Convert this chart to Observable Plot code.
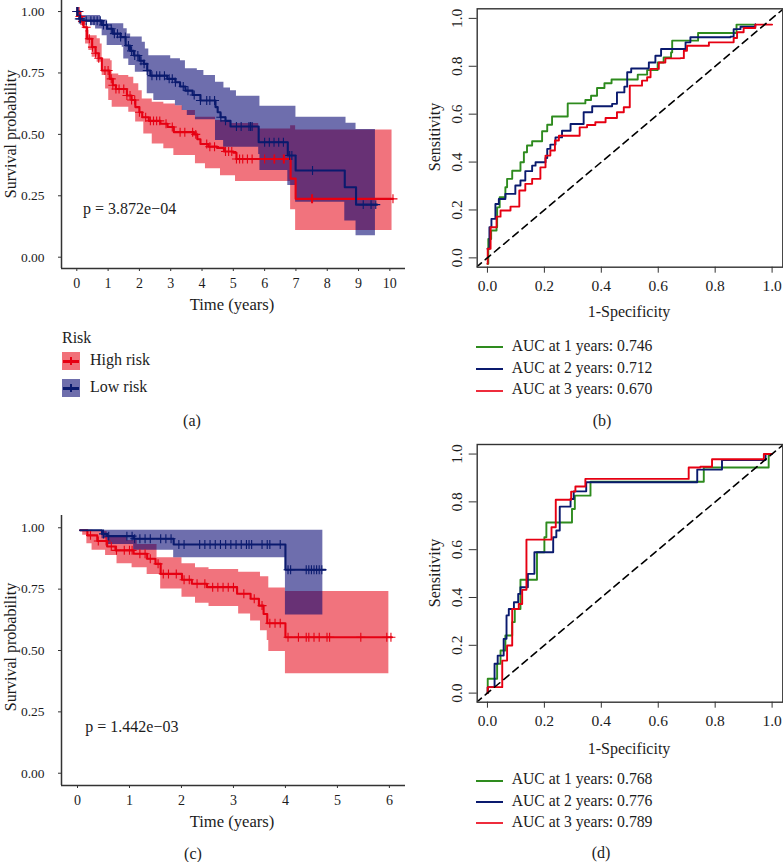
<!DOCTYPE html>
<html>
<head>
<meta charset="utf-8">
<script src="https://cdn.jsdelivr.net/npm/d3@7"></script>
<script src="https://cdn.jsdelivr.net/npm/@observablehq/plot@0.6"></script>
<style>
html,body{margin:0;padding:0;background:#fff;}
#page{position:relative;width:783px;height:862px;overflow:hidden;font-family:"Liberation Serif",serif;color:#1c1c1c;}
#page svg{position:absolute;background:transparent;overflow:visible;font-family:"Liberation Serif",serif;}
.t{position:absolute;white-space:nowrap;line-height:1;}
.sw{position:absolute;width:18px;height:18px;}
.sw i{position:absolute;left:1px;right:1px;top:8px;height:3px;}
.sw b{position:absolute;left:8px;top:5px;width:2px;height:8px;}
.ln{position:absolute;width:27px;height:2px;}
</style>
</head>
<body>
<div id="page"></div>
<script>
// ---------- Panel (a): survival, training cohort. [time, probability] steps ----------
const aHigh = [[0,1],[.1,.98],[.15,.96],[.22,.936],[.33,.889],[.49,.855],[.6,.83],[.7,.81],[.8,.76],[1.05,.726],[1.15,.7],[1.25,.685],[1.6,.658],[1.75,.64],[1.87,.611],[2,.59],[2.09,.57],[2.3,.555],[2.67,.543],[2.9,.53],[3.1,.509],[3.74,.5],[3.85,.48],[3.95,.461],[4.2,.45],[4.48,.445],[4.7,.43],[5,.425],[5.1,.4],[6.83,.32],[6.99,.2375],[10.1,.2375]];
const aHighUp = [[0,1],[.12,.963],[.28,.923],[.385,.902],[.65,.889],[.75,.868],[.81,.807],[1.08,.8],[1.13,.746],[1.34,.74],[1.66,.733],[1.82,.706],[1.98,.678],[2.09,.644],[2.41,.631],[2.78,.624],[3.15,.617],[3.38,.597],[3.79,.57],[4.43,.556],[4.91,.544],[5.81,.522],[6.83,.535],[6.99,.518],[10.07,.518]];
const aHighLo = [[0,1],[.12,.943],[.28,.868],[.385,.841],[.49,.814],[.65,.794],[.81,.74],[.92,.685],[1.02,.638],[1.13,.61],[1.66,.59],[1.88,.55],[2.14,.502],[2.41,.461],[2.78,.441],[3.1,.414],[3.79,.38],[4.11,.36],[4.59,.332],[5.07,.308],[6.83,.193],[6.99,.109],[10.07,.109]];
const aLow = [[0,1],[.08,.97],[.15,.963],[.65,.963],[.8,.945],[.97,.93],[1.15,.91],[1.4,.896],[1.56,.862],[1.7,.84],[1.82,.821],[2,.8],[2.14,.787],[2.25,.76],[2.35,.739],[2.89,.726],[3.15,.712],[3.3,.695],[3.47,.678],[3.7,.66],[3.95,.638],[4.43,.611],[4.5,.59],[4.59,.57],[4.75,.555],[4.91,.532],[5.81,.468],[6.74,.414],[6.99,.353],[8.56,.285],[8.92,.214],[9.59,.214]];
const aLowUp = [[0,1],[.1,.984],[.6,.984],[.76,.966],[.97,.95],[1.5,.93],[1.61,.909],[1.72,.896],[2.09,.875],[2.19,.848],[2.3,.82],[3,.808],[3.31,.8],[3.47,.767],[3.85,.76],[4.06,.74],[4.43,.712],[4.7,.689],[4.91,.678],[5.1,.655],[5.85,.615],[7,.57],[8.6,.545],[8.92,.52],[9.54,.52]];
const aLowLo = [[0,1],[.12,.963],[.23,.957],[.44,.943],[.6,.929],[.81,.902],[.97,.862],[1.45,.855],[1.5,.807],[1.66,.78],[1.87,.753],[2.25,.665],[2.46,.638],[3.15,.617],[3.37,.597],[3.53,.577],[3.79,.56],[4.43,.475],[4.69,.448],[5.81,.418],[5.85,.353],[6.74,.292],[6.99,.224],[8.56,.147],[8.92,.087],[9.54,.087]];
const aHighCens = [0,.03,.07,.1,.13,.18,.3,.4,.5,.6,.7,.9,1,1.1,1.15,1.25,1.35,1.5,1.6,1.7,1.75,1.85,2,2.2,2.35,2.45,2.55,2.65,2.85,3.05,3.3,3.45,3.7,3.8,4.15,4.25,4.4,4.75,4.85,4.95,5.1,5.2,5.3,5.45,5.6,6,6.3,6.32,6.6,6.63,7.5,7.53,10.1];
const aLowCens = [0,.02,.04,.08,.12,.3,.45,.55,.65,.75,.85,.95,1.1,1.2,1.3,1.4,1.55,1.65,1.75,1.85,1.95,2.05,2.15,2.25,2.4,2.55,2.65,2.8,2.95,3.05,3.15,3.4,3.55,3.75,3.95,4.15,4.25,4.4,4.6,4.75,5.1,5.25,5.5,5.55,5.6,6,6.15,6.3,6.45,6.6,6.8,6.87,7.53,9.15,9.4,9.55];

// ---------- Panel (c): survival, validation cohort ----------
const cHigh = [[.05,.99],[.19,.969],[.38,.946],[.57,.924],[.73,.908],[1.08,.894],[1.34,.874],[1.5,.853],[1.6,.812],[2.01,.788],[2.2,.772],[2.49,.758],[3.07,.731],[3.33,.711],[3.49,.683],[3.58,.649],[3.65,.611],[4,.554],[6.05,.554]];
const cHighUp = [[.05,.99],[.3,.985],[.57,.962],[.955,.948],[1.15,.932],[1.53,.878],[2.01,.853],[2.27,.837],[2.53,.83],[3.1,.819],[3.52,.8],[3.68,.755],[4,.74],[5.99,.74]];
const cHighLo = [[.05,.99],[.1,.97],[.18,.935],[.28,.908],[.54,.887],[.76,.853],[1.05,.837],[1.34,.81],[1.6,.751],[2.01,.717],[2.27,.693],[2.53,.679],[3.1,.649],[3.33,.62],[3.52,.58],[3.65,.541],[3.68,.496],[4,.405],[5.99,.405]];
const cLow = [[.05,.99],[.44,.99],[.47,.975],[.57,.966],[1.08,.955],[1.85,.932],[4,.829],[4.77,.829]];
const cLowUp = [[.05,.99],[4.72,.99]];
const cLowLo = [[.05,.99],[.47,.955],[.57,.932],[1.08,.908],[1.85,.878],[4,.645],[4.72,.645]];
const cHighCens = [.25,.4,.55,.65,.75,.9,1,1.05,1.2,1.3,1.4,1.55,1.65,1.75,1.9,2.05,2.15,2.3,2.45,2.6,2.7,2.8,2.9,3,3.2,3.4,3.55,3.7,3.8,3.9,4.05,4.25,4.4,4.45,4.55,4.65,4.8,4.85,5.45,5.95,6.03];
const cLowCens = [.5,.6,.95,1.05,1.1,1.2,1.3,1.4,1.6,1.7,1.8,1.95,2.05,2.35,2.45,2.55,2.65,2.75,2.85,2.95,3.05,3.15,3.25,3.3,3.35,3.55,3.65,3.7,3.9,4.05,4.1,4.4,4.45,4.5,4.55,4.6,4.65,4.7];

// ---------- Panel (b): ROC. [1-specificity, sensitivity] steps ----------
const bGreen = [[0,-.025],[.003,.079],[.013,.114],[.032,.128],[.034,.211],[.043,.253],[.063,.295],[.069,.33],[.087,.364],[.116,.399],[.128,.441],[.139,.469],[.157,.487],[.192,.529],[.21,.556],[.227,.59],[.282,.645],[.344,.659],[.364,.677],[.385,.709],[.411,.729],[.436,.745],[.528,.765],[.561,.784],[.598,.816],[.619,.837],[.645,.858],[.649,.907],[.74,.939],[.875,.974],[.936,.974]];
const bBlue = [[0,.038],[.007,.128],[.014,.163],[.028,.225],[.04,.246],[.063,.267],[.098,.302],[.116,.323],[.133,.362],[.157,.385],[.169,.399],[.204,.417],[.21,.455],[.221,.473],[.239,.503],[.262,.531],[.292,.559],[.338,.608],[.368,.633],[.438,.643],[.455,.691],[.481,.715],[.491,.775],[.505,.791],[.567,.816],[.59,.844],[.61,.872],[.696,.9],[.713,.921],[.854,.924],[.865,.955],[.889,.965],[.941,.976]];
const bRed = [[0,-.025],[.001,.038],[.011,.128],[.032,.172],[.046,.198],[.081,.214],[.112,.281],[.133,.309],[.157,.33],[.186,.378],[.204,.427],[.221,.448],[.237,.49],[.251,.51],[.324,.545],[.35,.555],[.379,.566],[.415,.584],[.455,.608],[.479,.629],[.5,.719],[.543,.74],[.561,.754],[.573,.789],[.602,.816],[.625,.833],[.678,.834],[.69,.865],[.701,.886],[.778,.9],[.865,.918],[.877,.942],[.9,.96],[.941,.974],[1,.974]];

// ---------- Panel (d): ROC ----------
const dGreen = [[0,0],[.001,.06],[.034,.123],[.046,.178],[.063,.241],[.087,.297],[.096,.352],[.116,.474],[.174,.589],[.2,.652],[.207,.714],[.297,.77],[.307,.826],[.362,.884],[.76,.944],[.988,1],[.995,1]];
const dBlue = [[0,0],[.001,.025],[.025,.123],[.036,.157],[.057,.227],[.067,.325],[.075,.352],[.093,.38],[.108,.415],[.116,.443],[.142,.499],[.165,.589],[.231,.652],[.242,.68],[.254,.78],[.292,.812],[.303,.844],[.347,.882],[.737,.935],[.824,.975],[.977,1],[.995,1]];
const dRed = [[0,0],[.001,.025],[.052,.136],[.069,.199],[.087,.352],[.11,.373],[.122,.432],[.137,.642],[.225,.694],[.24,.809],[.294,.843],[.309,.864],[.344,.896],[.707,.944],[.748,.947],[.789,.978],[.971,1],[1,1]];

const diagonal = [-.04, 1.04];
const kmXTicksA = [0,1,2,3,4,5,6,7,8,9,10];
const kmXTicksC = [0,1,2,3,4,5,6];
const kmYTicks = [0,.25,.5,.75,1];
const rocTicks = [0,.2,.4,.6,.8,1];
const rocNames = ["AUC at 1 years: ","AUC at 2 years: ","AUC at 3 years: "];
const bAuc = ["0.746","0.712","0.670"];
const dAuc = ["0.768","0.776","0.789"];

const RED="#e60012", NAVY="#0a1a6e", GREEN="#2e8b1e";
const BAND_RED="#e60012", BAND_NAVY="#00006e";
const AXIS="#333333", INK="#1c1c1c";
const page = document.getElementById("page");

// last step value at or before t (a survival curve is constant between steps)
const at = (steps, t) => { let v = steps[0][1]; for (const [x,y] of steps) { if (x<=t) v=y; else break; } return v; };
function band(up, lo) {
  const ts = [...new Set([...up,...lo].map(d=>d[0]))].sort((a,b)=>a-b);
  return ts.map(t=>({t, hi:at(up,t), lo:at(lo,t)}));
}
const pts = s => s.map(([x,y])=>({x,y}));
const marks = (steps, cens) => cens.map(t=>({x:t,y:at(steps,t)}));

function km({x0,y0,w,h,ml,mb,mr,mt,xd,yd,xt,high,highUp,highLo,low,lowUp,lowLo,highC,lowC,p,px,py}) {
  const svg = Plot.plot({
    width:w,height:h,marginLeft:ml,marginRight:mr,marginTop:mt,marginBottom:mb,
    style:{background:"transparent",fontFamily:"Liberation Serif",overflow:"visible"},
    x:{domain:xd,label:null},y:{domain:yd,label:null},
    marks:[
      Plot.areaY(band(highUp,highLo),{x:"t",y1:"lo",y2:"hi",curve:"step-after",fill:BAND_RED,fillOpacity:.55}),
      Plot.areaY(band(lowUp,lowLo),{x:"t",y1:"lo",y2:"hi",curve:"step-after",fill:BAND_NAVY,fillOpacity:.57}),
      Plot.line(pts(high),{x:"x",y:"y",curve:"step-after",stroke:RED,strokeWidth:2.1}),
      Plot.line(pts(low),{x:"x",y:"y",curve:"step-after",stroke:NAVY,strokeWidth:2.1}),
      Plot.dot(marks(high,highC),{x:"x",y:"y",symbol:"plus",r:3,stroke:RED,strokeWidth:1.1}),
      Plot.dot(marks(low,lowC),{x:"x",y:"y",symbol:"plus",r:3,stroke:NAVY,strokeWidth:1.1}),
      Plot.text([p],{x:px,y:py,textAnchor:"start",fontSize:16,fill:INK}),
      Plot.axisX({ticks:xt,tickFormat:d3.format("d"),tickSize:3,tickPadding:7,fontSize:14,label:null,stroke:AXIS,color:INK}),
      Plot.axisY({ticks:kmYTicks,tickFormat:d3.format(".2f"),tickSize:3,tickPadding:14,fontSize:13.5,label:null,stroke:AXIS,color:INK}),
      Plot.ruleX([xd[0]],{stroke:AXIS,strokeWidth:1.5}),
      Plot.ruleY([yd[0]],{stroke:AXIS,strokeWidth:1.5})
    ]
  });
  svg.style.left=x0+"px"; svg.style.top=y0+"px";
  page.appendChild(svg);
}

function roc({x0,y0,w,h,ml,mr,mt,mb,xd,yd,g,b,r}) {
  const svg = Plot.plot({
    width:w,height:h,marginLeft:ml,marginRight:mr,marginTop:mt,marginBottom:mb,
    style:{background:"transparent",fontFamily:"Liberation Serif",overflow:"visible"},
    x:{domain:xd,label:null},y:{domain:yd,label:null},
    marks:[
      Plot.line(pts(g),{x:"x",y:"y",curve:"step-after",stroke:GREEN,strokeWidth:1.9}),
      Plot.line(pts(b),{x:"x",y:"y",curve:"step-after",stroke:NAVY,strokeWidth:1.9}),
      Plot.line(pts(r),{x:"x",y:"y",curve:"step-after",stroke:RED,strokeWidth:1.9}),
      Plot.line(diagonal.map(v=>({x:v,y:v})),{x:"x",y:"y",stroke:"#000",strokeWidth:1.6,strokeDasharray:"7,5",clip:"frame"}),
      Plot.frame({stroke:AXIS,strokeWidth:1.4}),
      Plot.axisX({ticks:rocTicks,tickFormat:d3.format(".1f"),tickSize:6,tickPadding:7,fontSize:15.5,label:null,stroke:AXIS,color:INK}),
      Plot.axisY({ticks:rocTicks,tickFormat:d3.format(".1f"),tickSize:8,tickPadding:7,tickRotate:-90,fontSize:15.5,label:null,stroke:AXIS,color:INK})
    ]
  });
  svg.style.left=x0+"px"; svg.style.top=y0+"px";
  page.appendChild(svg);
}

function text(s,x,y,anchor="left",rot=false,size=16){
  const d=document.createElement("div"); d.className="t"; d.textContent=s;
  d.style.left=x+"px"; d.style.top=y+"px"; d.style.fontSize=size+"px";
  const tx = anchor==="center"?"-50%":"0";
  d.style.transform = rot ? "translate(-50%,-50%) rotate(-90deg)" : `translate(${tx},-50%)`;
  page.appendChild(d);
}

km({x0:0,y0:0,w:410,h:320,ml:61,mr:5,mt:0,mb:52,xd:[-.489,10.5],yd:[-.046,1.045],xt:kmXTicksA,
  high:aHigh,highUp:aHighUp,highLo:aHighLo,low:aLow,lowUp:aLowUp,lowLo:aLowLo,highC:aHighCens,lowC:aLowCens,
  p:"p = 3.872e−04",px:.2,py:.195});
km({x0:0,y0:510,w:410,h:330,ml:61,mr:5,mt:5,mb:55,xd:[-.308,6.31],yd:[-.05,1.05],xt:kmXTicksC,
  high:cHigh,highUp:cHighUp,highLo:cHighLo,low:cLow,lowUp:cLowUp,lowLo:cLowLo,highC:cHighCens,lowC:cLowCens,
  p:"p = 1.442e−03",px:.15,py:.19});
roc({x0:420,y0:0,w:363,h:320,ml:56.7,mr:.7,mt:8.3,mb:53.3,xd:[-.036,1.0376],yd:[-.039,1.04],g:bGreen,b:bBlue,r:bRed});
roc({x0:420,y0:430,w:363,h:320,ml:56.7,mr:.7,mt:14,mb:48.3,xd:[-.036,1.0376],yd:[-.038,1.04],g:dGreen,b:dBlue,r:dRed});

// axis titles
text("Survival probability",11,134,"center",true);
text("Time (years)",232,305,"center",false,16.6);
text("Survival probability",11,647,"center",true);
text("Time (years)",232,822,"center",false,16.6);
text("Sensitivity",435,137,"center",true);
text("1-Specificity",629,312,"center");
text("Sensitivity",435,573,"center",true);
text("1-Specificity",629,749,"center");

// risk legend
text("Risk",62,338);
[["High risk",RED,BAND_RED,352],["Low risk",NAVY,BAND_NAVY,379]].forEach(([name,c,f,y])=>{
  const s=document.createElement("div"); s.className="sw"; s.style.left="62px"; s.style.top=y+"px";
  s.style.background=f==BAND_RED?"#f17179":"#6e6eac";
  s.innerHTML=`<i style="background:${c}"></i><b style="background:${c}"></b>`;
  page.appendChild(s);
  text(name,90,y+8);
});

// ROC legends
function aucLegend(aucs,textYs,lineYs){
  [GREEN,NAVY,"#ee2c3c"].forEach((c,i)=>{
    const l=document.createElement("div"); l.className="ln"; l.style.left="476px"; l.style.top=lineYs[i]+"px"; l.style.background=c;
    page.appendChild(l);
    text(rocNames[i]+aucs[i],511.7,textYs[i],"left",false,15.7);
  });
}
aucLegend(bAuc,[346,368,389],[346,368,390]);
aucLegend(dAuc,[779,801,822],[780,801,822]);

// panel letters
text("(a)",192,421,"center");
text("(b)",602,421,"center");
text("(c)",193,854,"center");
text("(d)",601,853,"center");
</script>
</body>
</html>
